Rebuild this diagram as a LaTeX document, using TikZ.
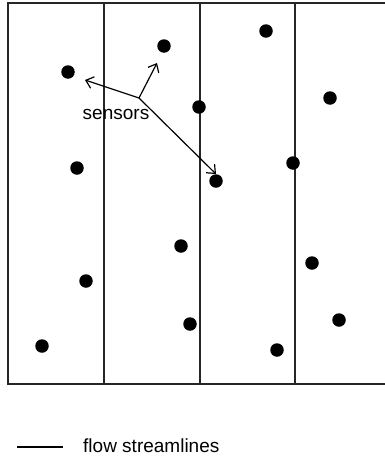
\documentclass[tikz,border=0pt]{standalone}
\usepackage{fontspec}
\setmainfont{Liberation Sans}
\usetikzlibrary{arrows.meta}
\begin{document}
\begin{tikzpicture}[x=1pt,y=-1pt,
  sensor/.style={circle,fill=black,inner sep=0pt,minimum size=13.5pt},
  frameline/.style={line width=1.5pt,draw=black!85},
  pointer/.style={line width=1.2pt,-{Straight Barb[length=7pt,width=12pt,line width=1.2pt]}},
  lbl/.style={font=\fontsize{19}{23}\selectfont,inner sep=0pt}]
\useasboundingbox (0,0) rectangle (385,458);
% frame (right edge lies beyond the picture)
\draw[frameline] (392,3) -- (8,3) -- (8,384) -- (392,384);
\draw[frameline] (104,3) -- (104,384);
\draw[frameline] (200,3) -- (200,384);
\draw[frameline] (295,3) -- (295,384);
% sensors
\node[sensor] (s1) at (68,72) {};
\node[sensor] (s2) at (164,46) {};
\node[sensor] (s3) at (266,31) {};
\node[sensor] (s4) at (199,107) {};
\node[sensor] (s5) at (330,98) {};
\node[sensor] (s6) at (77,168) {};
\node[sensor] (s7) at (293,163) {};
\node[sensor] (s8) at (216,181) {};
\node[sensor] (s9) at (181,246) {};
\node[sensor] (s10) at (312,263) {};
\node[sensor] (s11) at (86,281) {};
\node[sensor] (s12) at (190,324) {};
\node[sensor] (s13) at (339,320) {};
\node[sensor] (s14) at (42,346) {};
\node[sensor] (s15) at (277,350) {};
% label and pointers
\node[lbl] (lab) at (116,114) {sensors};
\coordinate (o) at (139,98);
\coordinate (t1) at (85,80);
\coordinate (t2) at (157,63);
\draw[pointer] (o) -- (t1);
\draw[pointer] (o) -- (t2);
\draw[pointer] (o) -- (s8.north);
% legend
\coordinate (l1) at (17,447);
\coordinate (l2) at (63,447);
\draw[line width=1.2pt] (l1) -- (l2);
\node[lbl,anchor=west] (leg) at (83,446) {flow streamlines};
\end{tikzpicture}
\end{document}
